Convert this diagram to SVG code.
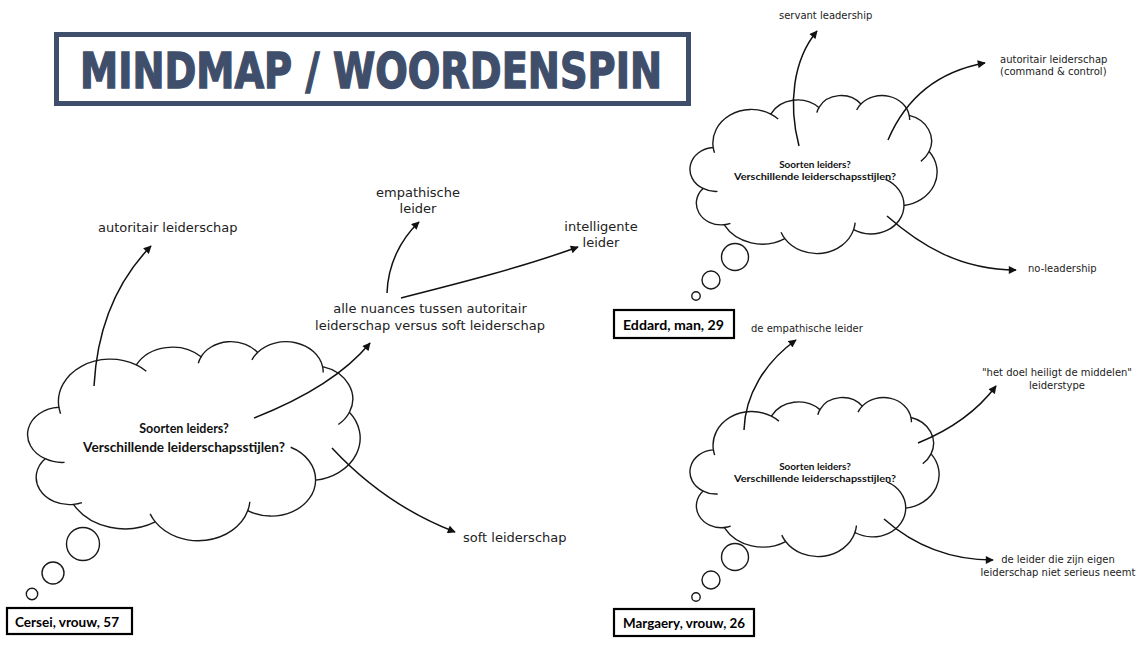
<svg xmlns="http://www.w3.org/2000/svg" width="1145" height="653" viewBox="0 0 1145 653">
  <style>
    .cloud { fill: #ffffff; stroke: #1a1a1a; stroke-width: 1.4; vector-effect: non-scaling-stroke; }
    .cloud-inner { fill: none; stroke: #1a1a1a; stroke-width: 1.4; vector-effect: non-scaling-stroke; }
    .bubble { fill: #ffffff; stroke: #1a1a1a; stroke-width: 1.4; }
    .conn { fill: none; stroke: #111111; stroke-width: 1.5; marker-end: url(#arrow); }
    .lbl { font-family: "DejaVu Sans", Verdana, sans-serif; fill: #222222; }
    .big { font-size: 13px; }
    .small { font-size: 10px; }
    .q { font-family: Lato, "Liberation Sans", sans-serif; font-weight: bold; fill: #111111; text-anchor: middle; }
    .tag { fill: #ffffff; stroke: #000000; stroke-width: 2.2; }
    .tagtxt { font-family: Lato, "Liberation Sans", sans-serif; font-weight: bold; font-size: 14px; fill: #000000; }
  </style>
  <defs>
    <marker id="arrow" viewBox="0 0 10 10" refX="9" refY="5" markerWidth="9" markerHeight="8" markerUnits="userSpaceOnUse" orient="auto">
      <path d="M0,0 L10,5 L0,10 Z" fill="#111111"/>
    </marker>
    <!-- cloud outline drawn in a 43200 x 43200 box -->
    <path id="cloud-outline" class="cloud" d="M3900 14370 A6753 9190 0 0 1 14006 5202 A5333 7267 0 0 1 22456 3433 A4365 5945 0 0 1 29833 2481 A4857 6595 0 0 1 38319 5577 A5333 7273 0 0 1 41819 15460 A6775 9220 0 0 1 37405 30204 A5785 7867 0 0 1 28556 36814 A6752 9215 0 0 1 16481 39265 A7720 10543 0 0 1 5805 35471 A4360 5918 0 0 1 2114 25549 A4345 5945 0 0 1 3900 14370 Z"/>
    <path id="cloud-folds" class="cloud-inner" d="M4647 26346 A4345 5945 0 0 1 2114 25549 M6914 35089 A4360 5918 0 0 1 5805 35471 M16481 39265 A6752 9215 0 0 1 15813 37525 M28823 34905 A6752 9215 0 0 1 28556 36814 M34153 23068 A5785 7867 0 0 1 37405 30204 M41819 15460 A5333 7273 0 0 1 40371 18136 M38319 5577 A4857 6595 0 0 1 38395 6840 M29092 4093 A4857 6595 0 0 1 29833 2481 M22097 4823 A4365 5945 0 0 1 22456 3433 M14006 5202 A6753 9190 0 0 1 15305 6551 M4127 15789 A6753 9190 0 0 1 3900 14370"/>
  </defs>

  <rect width="1145" height="653" fill="#ffffff"/>

  <!-- title banner -->
  <g id="title">
    <rect x="56.5" y="34.5" width="632" height="69" fill="none" stroke="#3f4e6a" stroke-width="5"/>
    <text x="80" y="88" font-family="'DejaVu Sans', sans-serif" font-weight="bold" font-size="50" fill="#3f4e6a" stroke="#3f4e6a" stroke-width="1.5" textLength="582" lengthAdjust="spacingAndGlyphs">MINDMAP / WOORDENSPIN</text>
  </g>

  <!-- Cersei -->
  <g id="cloud-cersei">
    <g transform="translate(29 341) scale(0.0076620 0.0046065)">
      <use href="#cloud-outline"/>
      <use href="#cloud-folds"/>
    </g>
    <circle class="bubble" cx="83" cy="544" r="16.5"/>
    <circle class="bubble" cx="53" cy="573" r="11"/>
    <circle class="bubble" cx="32" cy="594" r="5.7"/>
    <text class="q" font-size="12.5" x="184" y="433">Soorten leiders?</text>
    <text class="q" font-size="12.5" x="184" y="452" textLength="202" lengthAdjust="spacingAndGlyphs">Verschillende leiderschapsstijlen?</text>
  </g>
  <g id="tag-cersei">
    <rect class="tag" x="7" y="608" width="125" height="26"/>
    <text class="tagtxt" x="15" y="627" textLength="104" lengthAdjust="spacingAndGlyphs">Cersei, vrouw, 57</text>
  </g>
  <g id="n-autoritair"><text class="lbl big" x="98" y="232">autoritair leiderschap</text></g>
  <g id="n-nuances">
    <text class="lbl big" x="430" y="313" text-anchor="middle">alle nuances tussen autoritair</text>
    <text class="lbl big" x="430" y="330" text-anchor="middle">leiderschap versus soft leiderschap</text>
  </g>
  <g id="n-empathisch">
    <text class="lbl big" x="418" y="197" text-anchor="middle">empathische</text>
    <text class="lbl big" x="418" y="213" text-anchor="middle">leider</text>
  </g>
  <g id="n-intelligent">
    <text class="lbl big" x="601" y="231" text-anchor="middle">intelligente</text>
    <text class="lbl big" x="601" y="247" text-anchor="middle">leider</text>
  </g>
  <g id="n-soft"><text class="lbl big" x="463" y="542">soft leiderschap</text></g>

  <!-- Eddard -->
  <g id="cloud-eddard">
    <g transform="translate(691 95) scale(0.0056944 0.0036574)">
      <use href="#cloud-outline"/>
      <use href="#cloud-folds"/>
    </g>
    <circle class="bubble" cx="735" cy="257" r="13.5"/>
    <circle class="bubble" cx="711" cy="280" r="9"/>
    <circle class="bubble" cx="696" cy="296" r="4.2"/>
    <text class="q" font-size="10" x="815" y="168">Soorten leiders?</text>
    <text class="q" font-size="10" x="815" y="180" textLength="162" lengthAdjust="spacingAndGlyphs">Verschillende leiderschapsstijlen?</text>
  </g>
  <g id="tag-eddard">
    <rect class="tag" x="614" y="310" width="120" height="28"/>
    <text class="tagtxt" x="623" y="329.5" textLength="101" lengthAdjust="spacingAndGlyphs">Eddard, man, 29</text>
  </g>
  <g id="n-servant"><text class="lbl small" x="779" y="19">servant leadership</text></g>
  <g id="n-command">
    <text class="lbl small" x="1000" y="63">autoritair leiderschap</text>
    <text class="lbl small" x="1000" y="75">(command &amp; control)</text>
  </g>
  <g id="n-noleadership"><text class="lbl small" x="1028" y="272">no-leadership</text></g>

  <!-- Margaery -->
  <g id="cloud-margaery">
    <g transform="translate(691 397) scale(0.0057407 0.0036806)">
      <use href="#cloud-outline"/>
      <use href="#cloud-folds"/>
    </g>
    <circle class="bubble" cx="735" cy="557" r="13.5"/>
    <circle class="bubble" cx="711" cy="580" r="9"/>
    <circle class="bubble" cx="696" cy="597" r="4.2"/>
    <text class="q" font-size="10" x="815" y="470">Soorten leiders?</text>
    <text class="q" font-size="10" x="815" y="482" textLength="162" lengthAdjust="spacingAndGlyphs">Verschillende leiderschapsstijlen?</text>
  </g>
  <g id="tag-margaery">
    <rect class="tag" x="614" y="609" width="140" height="27"/>
    <text class="tagtxt" x="623" y="628" textLength="122" lengthAdjust="spacingAndGlyphs">Margaery, vrouw, 26</text>
  </g>
  <g id="n-empathisch2"><text class="lbl small" x="751" y="332">de empathische leider</text></g>
  <g id="n-doel">
    <text class="lbl small" x="1057" y="376" text-anchor="middle">"het doel heiligt de middelen"</text>
    <text class="lbl small" x="1057" y="389" text-anchor="middle">leiderstype</text>
  </g>
  <g id="n-serieus">
    <text class="lbl small" x="1058" y="563" text-anchor="middle">de leider die zijn eigen</text>
    <text class="lbl small" x="1058" y="576" text-anchor="middle">leiderschap niet serieus neemt</text>
  </g>

  <!-- connectors -->
  <g id="connectors">
    <path class="conn" d="M94 386 C97 330 116 282 151 246"/>
    <path class="conn" d="M254 418 C300 400 342 377 370 343"/>
    <path class="conn" d="M387 293 C388 265 400 240 419 222"/>
    <path class="conn" d="M401 298 C460 283 520 268 578 247"/>
    <path class="conn" d="M332 448 Q385 505 455 532"/>
    <path class="conn" d="M799 146 C788 104 793 60 817 31"/>
    <path class="conn" d="M888 140 C905 100 935 72 985 63"/>
    <path class="conn" d="M887 216 C920 245 960 270 1016 270"/>
    <path class="conn" d="M744 430 C745 395 765 362 796 340"/>
    <path class="conn" d="M918 443 C950 430 978 410 996 386"/>
    <path class="conn" d="M884 519 C910 542 945 560 993 560"/>
  </g>
</svg>
